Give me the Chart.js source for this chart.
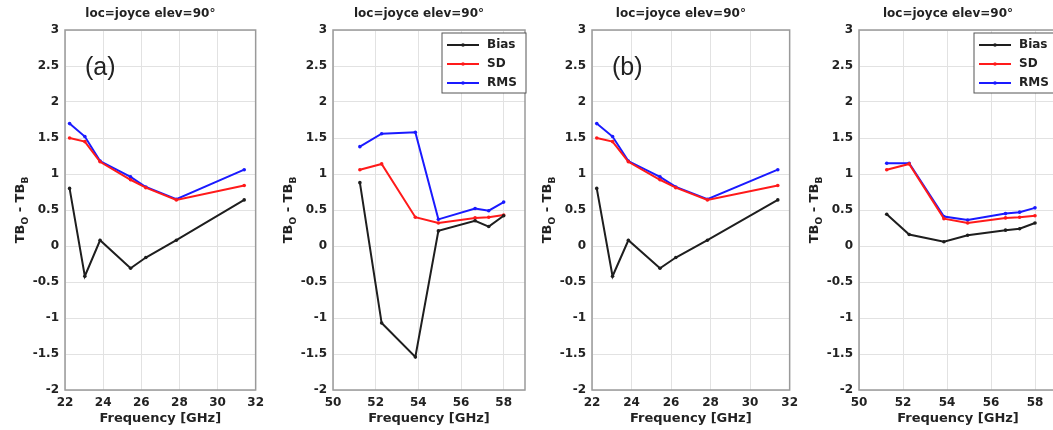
<!DOCTYPE html>
<html>
<head>
<meta charset="utf-8">
<script src="https://cdn.jsdelivr.net/npm/chart.js@4.4.1/dist/chart.umd.min.js"></script>
<style>
html, body { margin: 0; padding: 0; background: #fff; overflow: hidden; width: 1053px; height: 430px; }
canvas { position: absolute; top: 0; }
</style>
</head>
<body>
<canvas id="c1"></canvas>
<canvas id="c2"></canvas>
<canvas id="c3"></canvas>
<canvas id="c4"></canvas>
<script>
// channel frequencies (GHz)
const kFreq = [22.24, 23.04, 23.84, 25.44, 26.24, 27.84, 31.40];
const vFreq = [51.26, 52.28, 53.86, 54.94, 56.66, 57.30, 58.00];

// tick labels
const kTicks = [22, 24, 26, 28, 30, 32];
const vTicks = [50, 52, 54, 56, 58];
const yTicks = [-2, -1.5, -1, -0.5, 0, 0.5, 1, 1.5, 2, 2.5, 3];

// (a) K band
const biasA = [0.80, -0.42, 0.08, -0.31, -0.16, 0.08, 0.64];
const sdA   = [1.50, 1.45, 1.17, 0.92, 0.81, 0.64, 0.84];
const rmsA  = [1.70, 1.52, 1.18, 0.96, 0.82, 0.65, 1.06];
// (a) V band
const biasAV = [0.88, -1.07, -1.54, 0.21, 0.35, 0.27, 0.42];
const sdAV   = [1.06, 1.14, 0.40, 0.32, 0.39, 0.40, 0.43];
const rmsAV  = [1.38, 1.56, 1.58, 0.37, 0.52, 0.49, 0.61];
// (b) K band
const biasB = [0.80, -0.42, 0.08, -0.31, -0.16, 0.08, 0.64];
const sdB   = [1.50, 1.45, 1.17, 0.92, 0.81, 0.64, 0.84];
const rmsB  = [1.70, 1.52, 1.18, 0.96, 0.82, 0.65, 1.06];
// (b) V band
const biasBV = [0.44, 0.16, 0.06, 0.15, 0.22, 0.24, 0.32];
const sdBV   = [1.06, 1.14, 0.38, 0.32, 0.39, 0.40, 0.42];
const rmsBV  = [1.15, 1.15, 0.41, 0.36, 0.45, 0.47, 0.53];

const seriesNames = ['Bias', 'SD', 'RMS'];
const seriesColors = ['#1e1e1e', '#ff1a1a', '#1a1aff'];

const FONT = 'DejaVu Sans';
const TXT = '#222';

const panels = [
  { id: 'c1', left: 65,  right: 258,  xMin: 22, xMax: 32, ticks: kTicks, freq: kFreq, data: [biasA, sdA, rmsA], tag: '(a)', legend: false },
  { id: 'c2', left: 333, right: 525,  xMin: 50, xMax: 59, ticks: vTicks, freq: vFreq, data: [biasAV, sdAV, rmsAV], tag: null, legend: true },
  { id: 'c3', left: 592, right: 792,  xMin: 22, xMax: 32, ticks: kTicks, freq: kFreq, data: [biasB, sdB, rmsB], tag: '(b)', legend: false },
  { id: 'c4', left: 859, right: 1057, xMin: 50, xMax: 59, ticks: vTicks, freq: vFreq, data: [biasBV, sdBV, rmsBV], tag: null, legend: true }
];

const decor = {
  id: 'decor',
  afterDraw(chart, args, opts) {
    const ctx = chart.ctx;
    const a = chart.chartArea;
    ctx.save();

    // axes box
    ctx.strokeStyle = '#9a9a9a';
    ctx.lineWidth = 1.5;
    ctx.strokeRect(a.left, a.top, a.right - a.left, a.bottom - a.top);

    // title
    ctx.fillStyle = TXT;
    ctx.font = 'bold 12px "' + FONT + '"';
    ctx.textAlign = 'center';
    ctx.textBaseline = 'middle';
    ctx.fillText('loc=joyce elev=90°', (a.left + a.right) / 2 - 10, 14);

    // y axis label TB_O - TB_B
    ctx.save();
    ctx.translate(a.left - 46, (a.top + a.bottom) / 2);
    ctx.rotate(-Math.PI / 2);
    const parts = [['TB', 13, 0], ['O', 9, 4], [' - TB', 13, 0], ['B', 9, 4]];
    let total = 0;
    parts.forEach(p => { ctx.font = 'bold ' + p[1] + 'px "' + FONT + '"'; total += ctx.measureText(p[0]).width; });
    let x = -total / 2;
    ctx.textAlign = 'left';
    ctx.textBaseline = 'alphabetic';
    parts.forEach(p => {
      ctx.font = 'bold ' + p[1] + 'px "' + FONT + '"';
      ctx.fillText(p[0], x, 5 + p[2]);
      x += ctx.measureText(p[0]).width;
    });
    ctx.restore();

    // panel tag
    if (opts.tag) {
      ctx.font = '25px "Liberation Sans"';
      ctx.textAlign = 'left';
      ctx.textBaseline = 'middle';
      ctx.fillText(opts.tag, a.left + 20, 68);
    }

    // legend box
    if (opts.legend) {
      const bx = a.right - 83, by = a.top + 3, bw = 84, bh = 60;
      ctx.fillStyle = '#fff';
      ctx.fillRect(bx, by, bw, bh);
      ctx.strokeStyle = '#555';
      ctx.lineWidth = 1;
      ctx.strokeRect(bx, by, bw, bh);
      chart.data.datasets.forEach((ds, i) => {
        const yy = by + 12 + i * 19;
        ctx.strokeStyle = ds.borderColor;
        ctx.lineWidth = 2;
        ctx.beginPath();
        ctx.moveTo(bx + 5, yy);
        ctx.lineTo(bx + 37, yy);
        ctx.stroke();
        ctx.fillStyle = ds.borderColor;
        ctx.beginPath();
        ctx.arc(bx + 21, yy, 1.8, 0, Math.PI * 2);
        ctx.fill();
        ctx.fillStyle = TXT;
        ctx.font = 'bold 12px "' + FONT + '"';
        ctx.textAlign = 'left';
        ctx.textBaseline = 'middle';
        ctx.fillText(ds.label, bx + 45, yy);
      });
    }
    ctx.restore();
  }
};

const tickFont = { family: FONT, weight: 'bold', size: 12 };

panels.forEach(p => {
  const cv = document.getElementById(p.id);
  const w = p.right - p.left + 60 + 12;
  cv.width = w;
  cv.height = 430;
  cv.style.left = (p.left - 60) + 'px';
  cv.style.width = w + 'px';
  cv.style.height = '430px';

  const datasets = p.data.map((vals, i) => ({
    label: seriesNames[i],
    data: p.freq.map((f, j) => ({ x: f, y: vals[j] })),
    borderColor: seriesColors[i],
    backgroundColor: seriesColors[i],
    borderWidth: 2,
    pointRadius: 1.8,
    pointBorderWidth: 0,
    tension: 0
  }));

  new Chart(cv, {
    type: 'line',
    data: { datasets: datasets },
    options: {
      responsive: false,
      animation: false,
      events: [],
      layout: { padding: { top: 30, right: 12, left: 0, bottom: 0 } },
      plugins: {
        legend: { display: false },
        tooltip: { enabled: false },
        decor: { tag: p.tag, legend: p.legend }
      },
      scales: {
        x: {
          type: 'linear',
          min: p.xMin,
          max: p.xMax,
          afterBuildTicks: s => { s.ticks = p.ticks.map(v => ({ value: v })); },
          afterFit: s => { s.height = 40; },
          grid: { color: '#e2e2e2', drawTicks: false },
          border: { display: false },
          ticks: { padding: 6, color: TXT, font: tickFont, maxRotation: 0, autoSkip: false, callback: v => String(v) },
          title: { display: true, text: 'Frequency [GHz]', color: TXT, font: { family: FONT, weight: 'bold', size: 13 }, padding: { top: 0, bottom: 4 } }
        },
        y: {
          min: -2,
          max: 3,
          afterBuildTicks: s => { s.ticks = yTicks.map(v => ({ value: v })); },
          afterFit: s => { s.width = 60; },
          grid: { color: '#e2e2e2', drawTicks: false },
          border: { display: false },
          ticks: { padding: 6, color: TXT, font: tickFont, autoSkip: false, callback: v => String(v) }
        }
      }
    },
    plugins: [decor]
  });
});
</script>
</body>
</html>
